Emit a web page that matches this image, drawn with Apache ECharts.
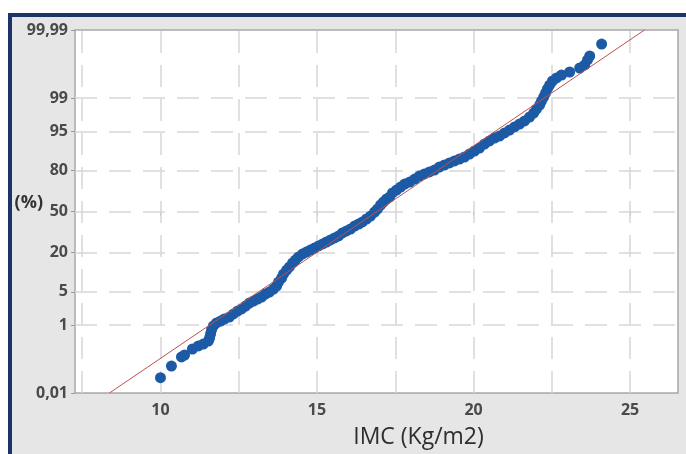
<!DOCTYPE html>
<html>
<head>
<meta charset="utf-8">
<script src="https://cdn.jsdelivr.net/npm/echarts@6/dist/echarts.min.js"></script>
<style>
  html, body { margin: 0; padding: 0; background: #ffffff; width: 686px; height: 454px; overflow: hidden; }
  #frame { position: absolute; left: 8px; top: 13px; width: 700px; height: 460px;
           border-left: 4px solid #1b3366; border-top: 4px solid #1b3366; background: #e6e6e6; }
  #chart { position: absolute; left: 0; top: 0; width: 686px; height: 454px; }
</style>
</head>
<body>
<div id="frame"></div>
<div id="chart"></div>
<script>
// ---- data ----
const imc = [
  10.00, 10.35, 10.67, 10.77, 11.02, 11.21, 11.37, 11.53,
  11.57, 11.60, 11.63, 11.69, 11.79, 11.92, 12.04, 12.20, 12.33, 12.46, 12.59, 12.72,
  12.84, 12.97, 13.10, 13.23, 13.35, 13.48, 13.61, 13.71, 13.77, 13.87, 13.93, 14.03,
  14.12, 14.22, 14.31, 14.41, 14.54, 14.66, 14.79, 14.92, 15.05, 15.18, 15.30, 15.43,
  15.56, 15.69, 15.81, 15.94, 16.07, 16.20, 16.33, 16.45, 16.58, 16.71, 16.84, 16.93,
  17.03, 17.12, 17.22, 17.32, 17.41, 17.54, 17.67, 17.80, 17.96, 18.12, 18.27, 18.43,
  18.59, 18.75, 18.91, 19.07, 19.23, 19.39, 19.55, 19.71, 19.87, 20.03, 20.19, 20.35,
  20.51, 20.67, 20.83, 20.99, 21.15, 21.31, 21.47, 21.63, 21.79, 21.92, 22.01, 22.11,
  22.17, 22.24, 22.30, 22.36, 22.43, 22.52, 22.65, 22.81, 23.07, 23.39, 23.55, 23.64,
  23.71, 24.09
];
const pct = [
  0.033, 0.077, 0.144, 0.164, 0.242, 0.293, 0.331, 0.398,
  0.477, 0.604, 0.76, 0.95, 1.12, 1.24, 1.38, 1.53, 1.79, 2.07, 2.29, 2.64,
  3.04, 3.33, 3.65, 3.99, 4.54, 4.95, 5.61, 6.34, 7.42, 8.65, 10.0, 11.5,
  12.8, 14.6, 16.0, 17.6, 19.2, 20.3, 21.5, 22.7, 24.0, 25.3, 26.6, 28.0,
  29.4, 30.8, 33.0, 34.5, 36.0, 38.3, 39.9, 41.5, 43.9, 46.3, 49.6, 52.0,
  55.3, 57.7, 60.1, 61.7, 64.8, 67.0, 69.2, 71.3, 72.7, 74.7, 76.6, 77.9,
  79.1, 80.2, 81.9, 82.97, 84.0, 84.97, 85.9, 86.8, 88.06, 89.25, 90.3, 91.67,
  92.58, 93.4, 93.9, 94.62, 95.25, 95.84, 96.35, 96.82, 97.36, 97.82, 98.21, 98.54,
  98.82, 99.05, 99.24, 99.40, 99.52, 99.625, 99.689, 99.742, 99.787, 99.836, 99.866, 99.905,
  99.928, 99.970
];
// fitted reference line (end points)
const fitImc = [8.37, 25.46];
const fitPct = [0.01, 99.99];
// axes
const yTickPct = [0.01, 1, 5, 20, 50, 80, 95, 99, 99.99];
const yTickLabels = ['0,01', '1', '5', '20', '50', '80', '95', '99', '99,99'];
const yGridPct = [1, 5, 20, 50, 80, 95, 99];
const xTickValues = [10, 15, 20, 25];
const xGridValues = [7.5, 10, 12.5, 15, 17.5, 20, 22.5, 25];
const xMin = 7.27, xMax = 26.53;

// normal probability scale (inverse standard normal CDF, Acklam)
function probit(p) {
  const a = [-3.969683028665376e+01, 2.209460984245205e+02, -2.759285104469687e+02, 1.383577518672690e+02, -3.066479806614716e+01, 2.506628277459239e+00];
  const b = [-5.447609879822406e+01, 1.615858368580409e+02, -1.556989798598866e+02, 6.680131188771972e+01, -1.328068155288572e+01];
  const c = [-7.784894002430293e-03, -3.223964580411365e-01, -2.400758277161838e+00, -2.549732539343734e+00, 4.374664141464968e+00, 2.938163982698783e+00];
  const d = [7.784695709041462e-03, 3.224671290700398e-01, 2.445134137142996e+00, 3.754408661907416e+00];
  const pl = 0.02425, ph = 1 - pl;
  let q, r;
  if (p < pl) {
    q = Math.sqrt(-2 * Math.log(p));
    return (((((c[0]*q+c[1])*q+c[2])*q+c[3])*q+c[4])*q+c[5]) / ((((d[0]*q+d[1])*q+d[2])*q+d[3])*q+1);
  } else if (p <= ph) {
    q = p - 0.5; r = q * q;
    return (((((a[0]*r+a[1])*r+a[2])*r+a[3])*r+a[4])*r+a[5])*q / (((((b[0]*r+b[1])*r+b[2])*r+b[3])*r+b[4])*r+1);
  } else {
    q = Math.sqrt(-2 * Math.log(1 - p));
    return -(((((c[0]*q+c[1])*q+c[2])*q+c[3])*q+c[4])*q+c[5]) / ((((d[0]*q+d[1])*q+d[2])*q+d[3])*q+1);
  }
}
const zOf = p => probit(p / 100);
const yTickZ = yTickPct.map(zOf);

const points = imc.map((x, i) => [x, zOf(pct[i])]);
const fitLine = fitImc.map((x, i) => [x, zOf(fitPct[i])]);

const gridStyle = { color: '#d6d6d6', width: 1.5, type: [22, 12] };
const labelFont = { color: '#4a4a4a', fontSize: 16, fontFamily: 'Open Sans', fontWeight: 'bold' };
const chart = echarts.init(document.getElementById('chart'), null, { renderer: 'canvas' });
chart.setOption({
  animation: false,
  backgroundColor: 'transparent',
  grid: { left: 75, top: 30, right: 8, bottom: 61, outerBoundsMode: 'none', containLabel: false,
          show: true, backgroundColor: '#ffffff', borderColor: '#a8a8a8', borderWidth: 1.5 },
  xAxis: {
    type: 'value', min: xMin, max: xMax,
    axisLine: { show: false },
    splitLine: { show: false },
    axisTick: { show: true, length: 4, lineStyle: { color: '#999' }, customValues: xTickValues },
    axisLabel: Object.assign({ customValues: xTickValues, margin: 9 }, labelFont),
    name: 'IMC (Kg/m2)', nameLocation: 'middle', nameGap: 33, nameMoveOverlap: false,
    nameTextStyle: { color: '#2e2e2e', fontSize: 23, fontFamily: 'Open Sans', padding: [0, 0, 0, 84] }
  },
  yAxis: {
    type: 'value', min: yTickZ[0], max: yTickZ[yTickZ.length - 1],
    axisLine: { show: false },
    splitLine: { show: false },
    axisTick: { show: true, length: 4, lineStyle: { color: '#999' }, customValues: yTickZ },
    axisLabel: Object.assign({
      customValues: yTickZ, margin: 7,
      formatter: v => {
        let best = 0;
        yTickZ.forEach((z, i) => { if (Math.abs(z - v) < Math.abs(yTickZ[best] - v)) best = i; });
        return yTickLabels[best];
      }
    }, labelFont),
    name: '(%)', nameLocation: 'middle', nameRotate: 0, nameGap: 32, nameMoveOverlap: false,
    nameTextStyle: { color: '#333333', fontSize: 18, fontFamily: 'Open Sans', fontWeight: 'bold', verticalAlign: 'bottom' }
  },
  series: [
    {
      type: 'line', data: [], silent: true, z: 1,
      markLine: {
        silent: true, z: 1, symbol: 'none', label: { show: false }, lineStyle: gridStyle,
        data: xGridValues.map(v => ({ xAxis: v })).concat(yGridPct.map(p => ({ yAxis: zOf(p) })))
      }
    },
    {
      type: 'scatter', data: points, symbol: 'circle', symbolSize: 11, z: 3,
      itemStyle: { color: '#1c5aa6', opacity: 1 }
    },
    {
      type: 'line', data: fitLine, showSymbol: false, z: 4,
      lineStyle: { color: '#c0504d', width: 1 }
    }
  ]
});
</script>
</body>
</html>
